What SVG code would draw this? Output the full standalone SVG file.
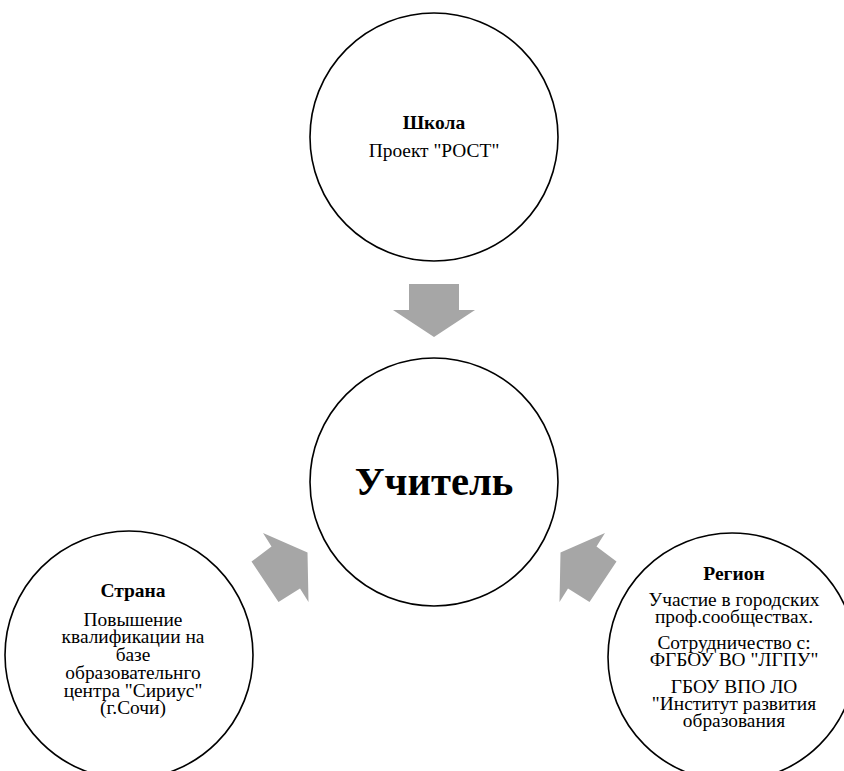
<svg xmlns="http://www.w3.org/2000/svg" width="844" height="771" viewBox="0 0 844 771">
<style>
.c{fill:#fff;stroke:#000;stroke-width:1.6}
.a{fill:#a6a6a6;stroke:none}
text{font-family:"Liberation Serif","Times New Roman",serif;fill:#000;text-anchor:middle}
.h{font-weight:bold;font-size:19.5px}
.t{font-size:19.4px}
.big{font-weight:bold;font-size:40.7px}
</style>
<rect width="844" height="771" fill="#fff"/>
<g id="connectors">
<polygon class="a" points="409,284 459,284 459,310 475,310 434,337 393,310 409,310"/>
<polygon class="a" points="263,533 307.5,552.5 308.5,602 300,588.5 278.5,602 251.5,561.5 271.5,546.5"/>
<polygon class="a" points="605,533 560.5,552.5 559.5,602 568,588.5 589.5,602 616.5,561.5 596.5,546.5"/>
</g>
<g id="school">
<circle class="c" cx="434" cy="137" r="124"/>
<text class="h" x="434" y="129">Школа</text>
<text class="t" x="434" y="157">Проект "РОСТ"</text>
</g>
<g id="teacher">
<circle class="c" cx="434" cy="482" r="124"/>
<text class="big" x="434" y="495">Учитель</text>
</g>
<g id="country">
<circle class="c" cx="129" cy="655" r="124"/>
<text class="h" x="133" y="597">Страна</text>
<text class="t" x="133" y="626">Повышение</text>
<text class="t" x="133" y="643">квалификации на</text>
<text class="t" x="133" y="661">базе</text>
<text class="t" x="133" y="679">образовательнго</text>
<text class="t" x="133" y="697">центра "Сириус"</text>
<text class="t" x="133" y="714">(г.Сочи)</text>
</g>
<g id="region">
<circle class="c" cx="732" cy="657" r="124"/>
<text class="h" x="734" y="580">Регион</text>
<text class="t" x="734" y="606">Участие в городских</text>
<text class="t" x="734" y="623">проф.сообществах.</text>
<text class="t" x="734" y="649">Сотрудничество с:</text>
<text class="t" x="734" y="666">ФГБОУ ВО "ЛГПУ"</text>
<text class="t" x="734" y="693">ГБОУ ВПО ЛО</text>
<text class="t" x="734" y="710">"Институт развития</text>
<text class="t" x="734" y="727">образования</text>
</g>
</svg>
